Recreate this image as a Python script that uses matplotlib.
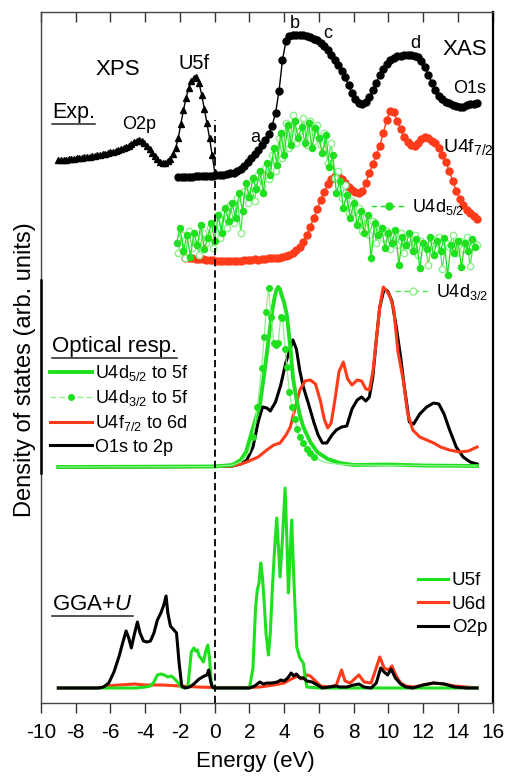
import numpy as np
import matplotlib
matplotlib.use("Agg")
import matplotlib.pyplot as plt
from matplotlib.lines import Line2D

plt.rcParams['font.family'] = ['Liberation Sans', 'DejaVu Sans']
plt.rcParams['mathtext.fontset'] = 'custom'
plt.rcParams['mathtext.rm'] = 'Liberation Sans'
plt.rcParams['mathtext.it'] = 'Liberation Sans:italic'
plt.rcParams['mathtext.bf'] = 'Liberation Sans:bold'
plt.rcParams['axes.unicode_minus'] = False

# ------------------------------------------------------------------ data
# Experimental: XPS valence band (triangles)
xps_e = np.round(np.arange(-9.0, 0.001, 0.15), 2)
xps_i = [103, 103.2, 103.5, 103.5, 103.8, 104, 104.5, 104.6, 105, 105.4,
         105.6, 106, 106.5, 107, 107.3, 107.8, 108.2, 108.8, 109.5, 110,
         110.8, 111.3, 112, 112.8, 113.8, 115, 116.2, 117.5, 119, 120.8,
         122.3, 123, 122, 120, 117, 114, 110.5, 107, 104, 101,
         100, 100.5, 102, 104.5, 109, 115, 125, 139, 153, 165,
         175, 182, 185.5, 186, 180, 168, 154, 140, 125, 108,
         91]

# Experimental: O1s XAS
o1s_e = np.round(np.arange(-2.1, 15.11, 0.2), 2)
o1s_i = [86, 86, 86.2, 86.3, 86.5, 86.6, 86.8, 87, 87, 87.2,
         87.4, 87.6, 88, 88.5, 89, 89.6, 90.5, 92, 94, 97,
         101, 105, 109, 113.5, 118.5, 123.5, 129, 137, 150, 172,
         203, 222, 227, 228, 228.5, 228.5, 228, 227, 226, 224.5,
         223, 220.5, 217, 213, 208.5, 203.5, 198, 192.5, 186, 178,
         170, 164, 160.5, 159.5, 161.5, 166, 173, 180.5, 188, 194,
         199, 203, 205.5, 207, 207.5, 208, 208, 208, 207.5, 206,
         202, 196, 188.5, 180, 173, 167.5, 164, 161.5, 160, 158.5,
         157, 156, 156.5, 158, 159, 159.5, 160]

# Experimental: U4f7/2 XAS
u4f_e = np.round(np.arange(-1.7, 15.11, 0.2), 2)
u4f_i = [5, 5.5, 5, 4.5, 4.5, 4, 3.5, 3, 3, 2.5,
         2, 2.5, 2, 2, 2.5, 2, 2, 3, 3, 3.5,
         4, 3.5, 4.5, 4.5, 5, 5.5, 5, 5.5, 6, 7,
         8, 10, 13, 16, 21, 28, 36, 45, 54, 63,
         71, 79, 84, 87, 87, 84, 80, 76, 73, 71,
         70, 72, 80, 90, 99, 108, 117, 130, 143, 152,
         151, 142, 134, 126, 121, 118, 117, 120, 124, 126,
         125, 122, 120, 115, 108, 101, 92, 82, 72, 64,
         58, 53, 50, 47, 44]

# Experimental: U4d5/2 XAS (filled) and U4d3/2 XAS (open)
u4d52_e = np.round(np.arange(-2.2, 15.01, 0.2), 2)
u4d52_i = [20, 35, 12, 28, 6, 30, 18, 38, 14, 25,
           40, 22, 48, 30, 55, 42, 60, 45, 70, 52,
           80, 66, 85, 74, 92, 70, 100, 88, 115, 98,
           130, 108, 138, 118, 142, 125, 136, 120, 140, 115,
           135, 125, 110, 128, 96, 108, 70, 82, 55, 68,
           45, 60, 38, 52, 30, 48, 5, 40, 28, 35,
           15, 30, 20, 33, -2, 26, 18, 30, 12, 24,
           -5, 20, 14, 26, 8, 22, 12, 25, -12, 18,
           10, 22, -4, 20, 12, 24, 16]
u4d32_e = np.round(np.arange(-2.1, 15.11, 0.2), 2)
u4d32_i = [10, 28, 5, 32, 15, 25, 8, 30, 20, 35,
           15, 40, 25, 50, 35, 58, 40, 65, 30, 72,
           60, 78, 62, 88, 76, 95, 84, 108, 92, 125,
           105, 140, 115, 148, 120, 132, 145, 118, 142, 122,
           138, 118, 130, 100, 120, 85, 92, 65, 78, 50,
           62, 45, 55, 32, 46, 28, 42, 20, 35, 25,
           32, 14, 28, 18, 30, 10, 25, 16, 28, 8,
           22, 18, -2, 24, 14, 26, -6, 20, 16, 28,
           10, 22, 14, 26, -3, 20, 18]

# Optical response
opt_d52_e = [-9, 0, 1.0, 1.5, 1.8, 2.0, 2.3, 2.6, 2.9, 3.1, 3.3, 3.45, 3.55, 3.65, 3.75,
             3.85, 4.0, 4.15, 4.35, 4.5, 4.7, 4.9, 5.1, 5.5, 5.9, 6.5, 7.2, 8.0, 10.0, 12.0, 15.1]
opt_d52_i = [0, 0.5, 2, 7, 15, 27, 45, 62, 100, 128, 155, 170, 177, 180, 178,
             172, 164, 152, 120, 90, 68, 52, 40, 25, 15, 8, 4, 2, 2.5, 1.5, 1]
opt_d32_e = [-9, 0, 1.0, 1.5, 2.0, 2.2, 2.45, 2.7, 2.85, 2.95, 3.1, 3.25, 3.4, 3.55, 3.65, 3.8,
             3.9, 4.05, 4.15, 4.3, 4.45, 4.6, 4.75, 4.9, 5.1, 5.3, 5.5, 5.7, 6.0, 6.5, 7.0, 8.0, 15.1]
opt_d32_i = [0, 0.5, 2, 5, 15, 30, 60, 99, 130, 155, 179, 150, 124, 122, 124, 150,
             149, 118, 100, 75, 60, 48, 38, 30, 24, 18, 14, 10, 7, 4, 3, 2, 1]
opt_f72_e = [-9, 0, 1.0, 1.5, 1.85, 2.5, 3.0, 3.4, 3.76, 4.1, 4.35, 4.6, 4.9, 5.2, 5.5, 5.8,
             6.1, 6.3, 6.5, 6.7, 6.9, 7.15, 7.4, 7.65, 7.9, 8.2, 8.45, 8.7, 8.9, 9.1, 9.3, 9.5,
             9.7, 9.9, 10.1, 10.3, 10.55, 10.85, 11.1, 11.4, 11.8, 12.2, 12.6, 13.0, 13.5, 14.1,
             14.6, 15.1]
opt_f72_i = [0, 0.5, 1, 3, 5, 10, 17, 22, 24, 32, 40, 57, 77, 86, 87, 83,
             65, 48, 39, 44, 65, 95, 105, 88, 82, 87, 86, 78, 77, 95, 127, 160,
             180, 176, 170, 158, 115, 87, 54, 37, 30, 27, 24, 20, 17, 15,
             16, 20]
opt_o1s_e = [-9, 0, 1.0, 1.5, 1.85, 2.2, 2.5, 2.75, 3.0, 3.2, 3.5, 3.8, 4.1, 4.3, 4.5, 4.7,
             4.9, 5.1, 5.4, 5.7, 5.95, 6.2, 6.45, 6.75, 7.0, 7.3, 7.6, 7.9, 8.2, 8.45, 8.7, 8.9,
             9.1, 9.3, 9.5, 9.75, 9.95, 10.2, 10.45, 10.7, 10.9, 11.2, 11.45, 11.8, 12.2, 12.6,
             12.9, 13.2, 13.5, 13.9, 14.3, 14.7, 15.1]
opt_o1s_i = [0, 0.5, 1, 3, 7, 20, 45, 60, 59, 56, 65, 82, 105, 116, 127, 118,
             96, 80, 63, 45, 32, 24, 24, 32, 37, 40, 41, 58, 67, 70, 66, 70,
             90, 127, 160, 178, 176, 166, 140, 110, 82, 45, 43, 53, 60, 64,
             63, 53, 38, 20, 10, 5, 3]

# GGA+U partial DOS
dos_o2p_e = [-9, -6.7, -6.4, -6.1, -5.8, -5.5, -5.3, -5.1, -4.95, -4.8,
             -4.65, -4.45, -4.3, -4.1, -3.9, -3.7, -3.5, -3.3, -3.1, -2.95,
             -2.8, -2.7, -2.55, -2.35, -2.2, -2.05, -1.9, -1.7, -1.45, -1.2,
             -0.9, -0.6, -0.45, -0.35, -0.25, -0.15, 0, 2.0, 2.3, 2.6,
             2.8, 3.0, 3.3, 3.6, 3.8, 4.0, 4.2, 4.4, 4.55, 4.7,
             4.9, 5.1, 5.3, 5.6, 5.9, 6.2, 6.6, 7.0, 7.2, 7.6,
             8.0, 8.3, 8.6, 9.0, 9.3, 9.55, 9.75, 9.95, 10.15, 10.4,
             10.7, 11.0, 11.4, 12.0, 12.6, 13.2, 13.8, 14.5, 15.1]
dos_o2p_i = [0, 0, 1, 5, 16, 32, 45, 57, 50, 40,
             52, 66, 55, 47, 46, 47, 55, 68, 75, 82,
             92, 75, 62, 58, 55, 25, 2, 0, 1, 4,
             9, 12, 13, 18, 8, 1, 0, 0, 2, 6,
             4, 5, 5, 6, 8, 7, 10, 15, 12, 14,
             10, 10, 7, 6, 3, 0, 1, 2, 1, 1,
             3, 4, 1, 0, 5, 20, 16, 13, 19, 10,
             4, 1, 0, 3, 5, 4, 1, 0, 0]
dos_u5f_e = [-9, -4.5, -4.0, -3.7, -3.5, -3.3, -3.1, -2.9, -2.7, -2.5,
             -2.3, -2.1, -1.95, -1.75, -1.55, -1.45, -1.35, -1.2, -1.1, -1.0,
             -0.9, -0.8, -0.65, -0.5, -0.4, -0.3, -0.2, -0.1, 2.0, 2.2,
             2.35, 2.45, 2.55, 2.65, 2.75, 2.85, 2.95, 3.09, 3.2, 3.32,
             3.45, 3.57, 3.67, 3.76, 3.9, 4.05, 4.15, 4.24, 4.33, 4.43,
             4.55, 4.72, 4.9, 5.1, 5.2, 5.3, 6.0, 15.1]
dos_u5f_i = [0, 0, 1, 2, 6, 13, 14, 13, 11, 12,
             9, 5, 1, 0, 1, 18, 36, 40, 37, 38,
             32, 30, 26, 38, 43, 30, 5, 0, 0, 20,
             80, 98, 105, 125, 110, 85, 55, 33, 55, 101,
             140, 170, 140, 111, 150, 200, 150, 95, 130, 168,
             110, 41, 30, 25, 12, 1, 0, 0]
dos_u6d_e = [-9, -6.6, -6.2, -5.5, -4.6, -4.0, -3.0, -2.0, -1.0, 0,
             2.0, 2.6, 3.4, 4.0, 4.4, 4.8, 5.0, 5.3, 5.5, 5.8,
             6.1, 6.6, 7.0, 7.3, 7.5, 7.8, 8.1, 8.3, 8.6, 9.0,
             9.2, 9.5, 9.75, 10.0, 10.2, 10.45, 10.7, 11.0, 11.5, 12.0,
             12.6, 13.2, 13.8, 14.5, 15.1]
dos_u6d_i = [0, 0, 2, 3, 4, 3, 3, 2, 1, 0.5,
             0.5, 1, 3, 5, 9, 12, 9, 13, 12, 7,
             2, 1, 3, 18, 7, 5, 10, 13, 6, 5,
             15, 31, 20, 18, 22, 12, 5, 2, 1, 3,
             5, 4, 2, 1, 0]

xticks = list(range(-10, 17, 2))
fermi_level = 0.0

# ------------------------------------------------------------------ style
GREEN = '#1ee01e'
LGREEN = '#8cf08c'
RED = '#ff3b1a'
BLACK = '#000000'
OFF_EXP, OFF_OPT, OFF_GGA = 440, 236, 15


def shift(vals, off):
    return np.asarray(vals, dtype=float) + off


fig = plt.figure(figsize=(5.05, 7.77), dpi=100)
ax = fig.add_axes([41 / 505, 74 / 777, 451.7 / 505, 691 / 777])
ax.set_xlim(-10, 16)
ax.set_ylim(0, 691)

# --- Experimental panel
ax.plot(xps_e, shift(xps_i, OFF_EXP), color=BLACK, lw=1.0, marker='^', ms=4.4,
        mec=BLACK, mfc=BLACK, zorder=3)
ax.plot(o1s_e, shift(o1s_i, OFF_EXP), color=BLACK, lw=1.0, marker='o', ms=5.0,
        mec=BLACK, mfc=BLACK, zorder=3)
ax.plot(u4f_e, shift(u4f_i, OFF_EXP), color=RED, lw=1.0, marker='o', ms=5.0,
        mec=RED, mfc=RED, zorder=2)
ax.plot(u4d32_e, shift(u4d32_i, OFF_EXP), color='#4fe84f', lw=0.9, marker='o', ms=4.6,
        mec=LGREEN, mfc='white', mew=1.0, zorder=2.5)
ax.plot(u4d52_e, shift(u4d52_i, OFF_EXP), color=GREEN, lw=0.9, marker='o', ms=4.4,
        mec=GREEN, mfc=GREEN, zorder=2.6)

# --- Optical response panel
ax.plot(opt_o1s_e, shift(opt_o1s_i, OFF_OPT), color=BLACK, lw=2.2, zorder=3)
ax.plot(opt_f72_e, shift(opt_f72_i, OFF_OPT), color=RED, lw=2.2, zorder=3.1)
ax.plot(opt_d52_e, shift(opt_d52_i, OFF_OPT), color=GREEN, lw=2.8, zorder=3.2)
d32_marks = [i for i, e in enumerate(opt_d32_e) if 2.2 <= e <= 5.7]
ax.plot(opt_d32_e, shift(opt_d32_i, OFF_OPT), color=LGREEN, lw=0.9, marker='o', ms=4,
        mec=GREEN, mfc=GREEN, markevery=d32_marks, zorder=3.3)

# --- GGA+U panel
ax.plot(dos_u6d_e, shift(dos_u6d_i, OFF_GGA), color=RED, lw=2.2, zorder=3)
ax.plot(dos_u5f_e, shift(dos_u5f_i, OFF_GGA), color=GREEN, lw=2.2, zorder=3.1)
ax.plot(dos_o2p_e, shift(dos_o2p_i, OFF_GGA), color=BLACK, lw=2.2, zorder=3.2)

# Fermi level
ax.vlines(fermi_level, 0, 583, colors=BLACK, linestyles=(0, (4, 2.2)), lw=1.3, zorder=4)

# --- axes styling
ax.set_xticks(xticks)
ax.set_xticklabels([str(t) for t in xticks])
ax.set_yticks([])
ax.tick_params(axis='x', direction='out', length=7.5, width=1.0, color='#333333',
               labelsize=15, pad=7)
sec = ax.secondary_xaxis('top')
sec.set_xticks(xticks)
sec.set_xticklabels([])
sec.tick_params(direction='in', length=7, width=1.0, color='#333333')
sec.spines['top'].set_visible(False)
for s in ['top', 'bottom', 'left']:
    ax.spines[s].set_linewidth(1.0)
    ax.spines[s].set_color('#444444')
ax.spines['right'].set_linewidth(1.6)
ax.spines['right'].set_color(BLACK)
ax.plot([0, 0], [230 / 691, 423 / 691], transform=ax.transAxes, color=BLACK,
        lw=1.8, clip_on=False, zorder=5)

ax.set_xlabel('Energy (eV)', fontsize=16)
ax.xaxis.set_label_coords(0.474, -0.069)
ax.set_ylabel('Density of states (arb. units)', fontsize=17)
ax.yaxis.set_label_coords(-0.01, 0.483)

# --- annotations (experimental panel)
tkw = dict(ha='left', va='baseline')
t_exp = ax.text(-9.37, 585, 'Exp.', fontsize=15.5, **tkw)
ax.text(-6.89, 628, 'XPS', fontsize=16, **tkw)
ax.text(-2.11, 634, 'U5f', fontsize=14.5, **tkw)
ax.text(-5.33, 574, 'O2p', fontsize=13, **tkw)
ax.text(2.03, 561, 'a', fontsize=13, **tkw)
ax.text(4.34, 675, 'b', fontsize=13, **tkw)
ax.text(6.24, 665, 'c', fontsize=13, **tkw)
ax.text(11.24, 655, 'd', fontsize=13, **tkw)
ax.text(13.1, 648, 'XAS', fontsize=16, **tkw)
ax.text(13.73, 610, 'O1s', fontsize=13, **tkw)
ax.text(13.14, 551, r'U4f$_{7/2}$', fontsize=14, **tkw)

h52 = Line2D([], [], color=GREEN, lw=1.0, ls=(0, (4, 2.5)), marker='o', ms=5,
             mec=GREEN, mfc=GREEN)
h32 = Line2D([], [], color='#4fe84f', lw=1.0, ls=(0, (4, 2.5)), marker='o', ms=5,
             mec=LGREEN, mfc='white')
lkw = dict(frameon=False, fontsize=13, borderpad=0, borderaxespad=0,
           handletextpad=0.28, handlelength=2.0, numpoints=1,
           loc='upper left', bbox_transform=fig.transFigure)
leg52 = ax.legend([h52], [r'U4d$_{5/2}$'], bbox_to_anchor=(371 / 505, 1 - 197 / 777), **lkw)
ax.add_artist(leg52)
leg32 = ax.legend([h32], [r'U4d$_{3/2}$'], bbox_to_anchor=(395 / 505, 1 - 282 / 777), **lkw)
ax.add_artist(leg32)

# --- optical response legend
t_opt = ax.text(-9.37, 351, 'Optical resp.', fontsize=16, **tkw)
hopt = [Line2D([], [], color=GREEN, lw=2.8),
        Line2D([], [], color=LGREEN, lw=1.0, ls=(0, (4, 2.5)), marker='o', ms=4,
               mec=GREEN, mfc=GREEN),
        Line2D([], [], color=RED, lw=2.2),
        Line2D([], [], color=BLACK, lw=2.2)]
lopt = [r'U4d$_{5/2}$ to 5f', r'U4d$_{3/2}$ to 5f', r'U4f$_{7/2}$ to 6d', 'O1s to 2p']
leg_opt = ax.legend(hopt, lopt, frameon=False, fontsize=13, borderpad=0, borderaxespad=0,
                    handletextpad=0.2, handlelength=2.3, labelspacing=0.29, numpoints=1,
                    loc='upper left', bbox_to_anchor=(50 / 505, 1 - 363 / 777),
                    bbox_transform=fig.transFigure)
ax.add_artist(leg_opt)

# --- GGA+U legend
t_gga = ax.text(-9.37, 93, r'GGA+$\mathit{U}$', fontsize=16, **tkw)
hgga = [Line2D([], [], color=GREEN, lw=2.2),
        Line2D([], [], color=RED, lw=2.2),
        Line2D([], [], color=BLACK, lw=2.2)]
leg_gga = ax.legend(hgga, ['U5f', 'U6d', 'O2p'], frameon=False, fontsize=13.5, borderpad=0,
                    borderaxespad=0, handletextpad=0.2, handlelength=1.6, labelspacing=0.34,
                    loc='upper left', bbox_to_anchor=(418 / 505, 1 - 572 / 777),
                    bbox_transform=fig.transFigure)

# --- underline the panel titles
fig.canvas.draw()
rend = fig.canvas.get_renderer()
inv = fig.transFigure.inverted()
for t in (t_exp, t_opt, t_gga):
    bb = t.get_window_extent(rend)
    (x0, y0), (x1, _) = inv.transform([(bb.x0, bb.y0), (bb.x1, bb.y0)])
    fig.add_artist(Line2D([x0, x1], [y0 - 0.5 / 777, y0 - 0.5 / 777], transform=fig.transFigure,
                          color='#222222', lw=1.1))

fig.savefig('out.png', dpi=100)
